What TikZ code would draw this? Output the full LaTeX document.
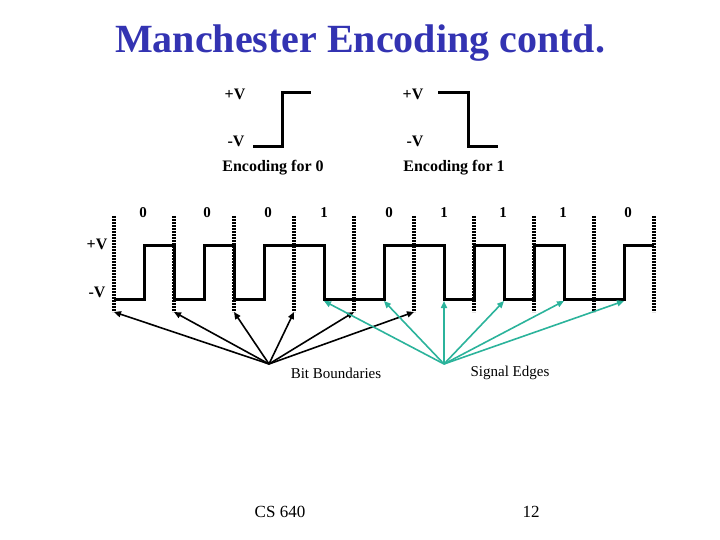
\documentclass[tikz,border=0pt]{standalone}
\usepackage{fontspec}
\setmainfont{Liberation Serif}
\usetikzlibrary{arrows.meta}
\definecolor{Title}{HTML}{3333B2}
\definecolor{Edge}{HTML}{2BB39B}
\tikzset{wave/.style={line width=3pt,line join=miter},bound/.style={line width=3.2pt,dash pattern=on 2pt off 1pt},lvl/.style={font=\bfseries\fontsize{16}{16}\selectfont},bitlab/.style={font=\bfseries\fontsize{15}{15}\selectfont},caption/.style={font=\fontsize{15}{15}\selectfont},ptr/.style={-{Triangle[length=7pt,width=6pt]},line width=1.6pt}}

\begin{document}
\begin{tikzpicture}[x=1pt,y=-1pt]
\useasboundingbox (0,0) rectangle (720,540);
\node[font=\bfseries\fontsize{40}{40}\selectfont,text=Title] (title) at (360,43) {Manchester Encoding contd.};
% the two codes
\node[lvl] (hi0) at (235,94) {+V};
\node[lvl] (lo0) at (236,141) {-V};
\node[lvl] (enc0) at (273,168) {Encoding for 0};
\node[lvl] (hi1) at (413,94) {+V};
\node[lvl] (lo1) at (415,141) {-V};
\node[lvl] (enc1) at (454,168) {Encoding for 1};
\draw[wave] (253,147)--(282,147)--(282,93)--(311,93);
\draw[wave] (438,93)--(468,93)--(468,147)--(498,147);
% bits and boundaries
\foreach \x/\b [count=\i] in {143/0,207/0,268/0,324/1,389/0,444/1,503/1,563/1,628/0}{\node[bitlab] (bit\i) at (\x,213) {\b};}
\foreach \k in {0,...,9}{\draw[bound] (114+60*\k,216)--(114+60*\k,312);}
\node[lvl] (hiw) at (97,244) {+V};
\node[lvl] (low) at (97,292) {-V};
\draw[wave] (114,299)--(144,299)--(144,245)--(174,245)--(174,299)--(204,299)--(204,245)--(234,245)--(234,299)--(264,299)--(264,245)--(324,245)--(324,299)--(384,299)--(384,245)--(444,245)--(444,299)--(474,299)--(474,245)--(504,245)--(504,299)--(534,299)--(534,245)--(564,245)--(564,299)--(624,299)--(624,245)--(654,245);
% pointers
\coordinate (bb) at (269,364);
\coordinate (se) at (444,364);
\foreach \k in {0,...,5}{\coordinate (b\k) at (114+60*\k,312);}
\foreach \k in {1,...,6}{\coordinate (e\k) at (264+60*\k,301);}
\foreach \k in {0,...,5}{\draw[ptr] (bb)--(b\k);}
\foreach \k in {1,...,6}{\draw[ptr,Edge] (se)--(e\k);}
\node[caption] (bbl) at (336,373) {Bit Boundaries};
\node[caption] (sel) at (510,373) {Signal Edges};
\node[font=\fontsize{17}{17}\selectfont] (course) at (280,512) {CS 640};
\node[font=\fontsize{17}{17}\selectfont] (page) at (531,512) {12};
\end{tikzpicture}
\end{document}
